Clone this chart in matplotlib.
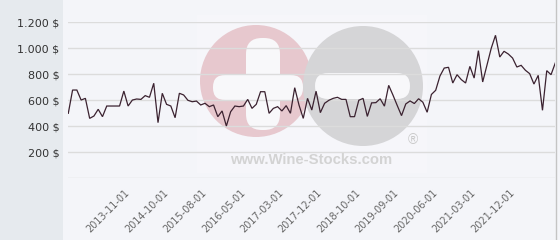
import matplotlib
matplotlib.use("Agg")
import matplotlib.pyplot as plt
from matplotlib.patches import Rectangle, Circle, FancyBboxPatch
from matplotlib.lines import Line2D
from matplotlib.transforms import Affine2D
from matplotlib.ticker import FuncFormatter, FixedLocator

# ---- data ----
prices = [500, 679, 679, 602, 615, 461, 479, 531, 474, 556,
          556, 556, 556, 671, 556, 602, 610, 607, 636, 623,
          731, 428, 654, 569, 556, 466, 654, 641, 600, 589,
          594, 564, 577, 551, 564, 474, 518, 402, 512, 556,
          551, 556, 607, 538, 569, 666, 666, 500, 538, 551,
          518, 559, 500, 697, 564, 461, 615, 525, 670, 505,
          577, 600, 615, 623, 607, 607, 474, 474, 600, 615,
          476, 580, 582, 612, 555, 715, 640, 560, 482, 572,
          595, 575, 612, 585, 508, 645, 677, 787, 848, 854,
          733, 797, 759, 733, 861, 771, 982, 741, 870, 1000,
          1100, 933, 977, 956, 925, 856, 869, 831, 805, 725,
          792, 523, 828, 797, 887]
tick_labels = ["2013-11-01", "2014-10-01", "2015-08-01", "2016-05-01",
               "2017-03-01", "2017-12-01", "2018-10-01", "2019-09-01",
               "2020-06-01", "2021-03-01", "2021-12-01"]
y_ticks = [0, 200, 400, 600, 800, 1000, 1200]

# ---- layout ----
W, H, DPI = 560, 240, 100
first_tick, tick_step = 14, 9

fig = plt.figure(figsize=(W / DPI, H / DPI), dpi=DPI, facecolor="#f4f5f9")
# left strip
fig.patches.append(Rectangle((0, 0), 63 / W, 1, transform=fig.transFigure,
                             facecolor="#e6eaee", edgecolor="none", zorder=-1))
# right border line
fig.add_artist(Line2D([556 / W, 556 / W], [0, 1], transform=fig.transFigure,
                      color="#c4c4c4", lw=1))

left_px, right_px = 68.3, 555.3
top_px, bot_px = 22.3, 178.3
ax = fig.add_axes([left_px / W, (H - bot_px) / H, (right_px - left_px) / W,
                   (bot_px - top_px) / H])
ax.set_facecolor("none")
for s in ax.spines.values():
    s.set_visible(False)

x = list(range(len(prices)))
ax.plot(x, prices, color="#3b2230", lw=0.9, zorder=3, solid_joinstyle="miter")
ax.set_xlim(0, len(prices) - 1)
ax.set_ylim(0, 1200)

ax.yaxis.set_major_locator(FixedLocator(y_ticks))
ax.yaxis.set_major_formatter(FuncFormatter(
    lambda v, p: "" if v == 0 else f"{int(v):,} $".replace(",", ".")))
ax.set_axisbelow(False)
ax.yaxis.grid(True, color="#dcdcdc", lw=1)
ax.tick_params(axis="y", length=0, pad=6.5, labelsize=8, labelcolor="#333333")

tpos = [first_tick + i * tick_step for i in range(len(tick_labels))]
ax.set_xticks(tpos)
ax.set_xticklabels(tick_labels, rotation=45, ha="right", va="center",
                   rotation_mode="anchor", fontsize=7, color="#666666")
ax.tick_params(axis="x", length=0, pad=9)

# ---- watermark (pixel coordinates, origin top-left) ----
T = Affine2D().scale(1 / DPI, -1 / DPI).translate(0, H / DPI) + fig.dpi_scale_trans
ax.add_patch(Rectangle((197, 15), 230, 158, transform=T, facecolor="white",
                       alpha=0.2, edgecolor="none", zorder=0.8, clip_on=False))
ax.add_patch(Circle((256, 81), 56, transform=T, facecolor="#e7c8ce",
                    edgecolor="none", zorder=1, clip_on=False))
ax.add_patch(Circle((363, 86), 60, transform=T, facecolor="#d5d5d7",
                    edgecolor="none", zorder=1.05, clip_on=False))
bar_col = "#f8f8fa"
ax.add_patch(FancyBboxPatch((213, 75), 90, 25, boxstyle="round,pad=0,rounding_size=12",
                            transform=T, facecolor=bar_col, edgecolor="none",
                            zorder=1.1, clip_on=False))
ax.add_patch(FancyBboxPatch((246, 38), 34, 92, boxstyle="round,pad=0,rounding_size=16",
                            transform=T, facecolor=bar_col, edgecolor="none",
                            zorder=1.1, clip_on=False))
ax.add_patch(FancyBboxPatch((315, 73), 95, 26, boxstyle="round,pad=0,rounding_size=13",
                            transform=T, facecolor=bar_col, edgecolor="none",
                            zorder=1.1, clip_on=False))
ax.text(311, 160, "www.Wine-Stocks.com", transform=T, ha="center", va="center",
        fontsize=10.7, fontweight="bold", family="Liberation Sans",
        color="#d3d3d3", zorder=1.2, clip_on=False)
ax.text(413, 140, "®", transform=T, ha="center", va="center", fontsize=10,
        family="Liberation Sans", color="#c9c9c9", zorder=1.2, clip_on=False)

fig.savefig("out.png", dpi=DPI, facecolor=fig.get_facecolor())
